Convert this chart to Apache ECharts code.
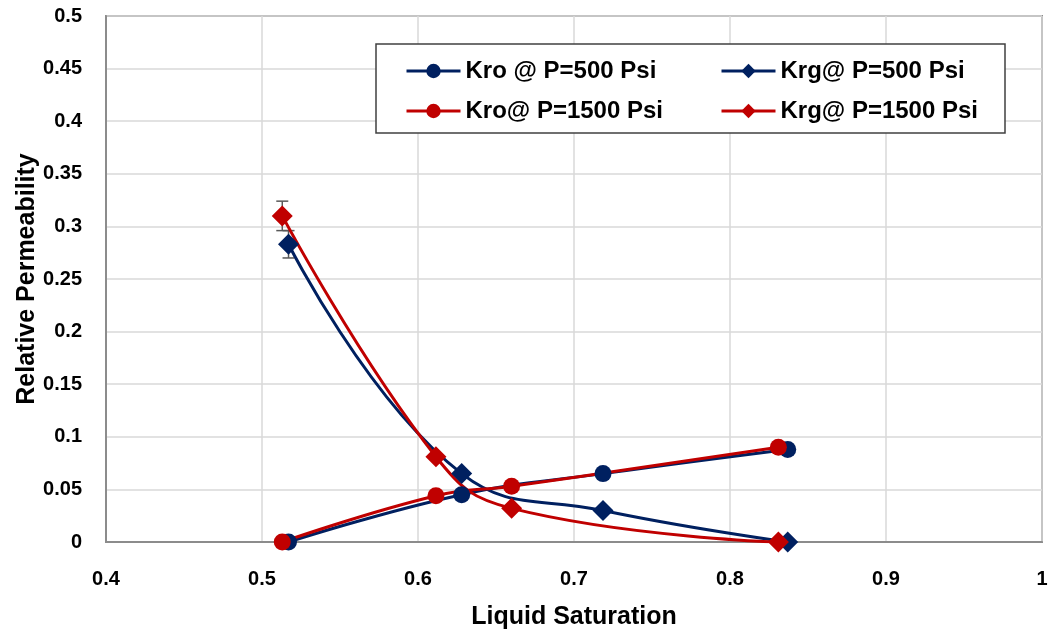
<!DOCTYPE html>
<html>
<head>
<meta charset="utf-8">
<title>Relative Permeability vs Liquid Saturation</title>
<script src="https://cdn.jsdelivr.net/npm/echarts@6/dist/echarts.min.js"></script>
<style>
  html, body { margin: 0; padding: 0; background: #fff; }
  #chart { width: 1051px; height: 635px; }
</style>
</head>
<body>
<div id="chart"></div>
<script>
// Liquid saturation (x) and relative permeability (y) for each curve
const satKro500 = [0.517, 0.628, 0.7186, 0.837];
const kro500    = [0, 0.045, 0.065, 0.088];
const satKrg500 = [0.517, 0.628, 0.7186, 0.837];
const krg500    = [0.283, 0.065, 0.030, 0];
const satKro1500 = [0.513, 0.6115, 0.660, 0.831];
const kro1500    = [0, 0.044, 0.053, 0.090];
const satKrg1500 = [0.513, 0.6115, 0.660, 0.831];
const krg1500    = [0.310, 0.081, 0.032, 0];

// Error bars: [saturation, value, half-range]
const errKrg500  = [[0.517, 0.283, 0.013]];
const errKrg1500 = [[0.513, 0.310, 0.014]];

const seriesNames = ['Kro @ P=500 Psi', 'Krg@ P=500 Psi', 'Kro@ P=1500 Psi', 'Krg@ P=1500 Psi'];

const xMin = 0.4, xMax = 1, xStep = 0.1;
const yMin = 0, yMax = 0.5, yStep = 0.05;

const NAVY = '#002060';
const RED = '#C00000';
const FONT = '"Liberation Sans", Arial, sans-serif';

const pairs = (xs, ys) => xs.map((x, i) => [x, ys[i]]);

function lineSeries(name, xs, ys, color, symbol, size) {
  return {
    name: name,
    type: 'line',
    data: pairs(xs, ys),
    smooth: 0.45,
    symbol: symbol,
    symbolSize: size,
    showAllSymbol: true,
    lineStyle: { color: color, width: 3 },
    itemStyle: { color: color },
    emphasis: { disabled: true },
    z: 3
  };
}

function errorSeries(data) {
  return {
    type: 'custom',
    data: data,
    z: 2,
    silent: true,
    encode: { x: 0, y: [1] },
    renderItem: function (params, api) {
      const x = api.value(0), y = api.value(1), e = api.value(2);
      const top = api.coord([x, y + e]);
      const bot = api.coord([x, y - e]);
      const cap = 6;
      const style = { stroke: '#595959', lineWidth: 1.5 };
      return {
        type: 'group',
        children: [
          { type: 'line', shape: { x1: top[0], y1: top[1], x2: bot[0], y2: bot[1] }, style: style },
          { type: 'line', shape: { x1: top[0] - cap, y1: top[1], x2: top[0] + cap, y2: top[1] }, style: style },
          { type: 'line', shape: { x1: bot[0] - cap, y1: bot[1], x2: bot[0] + cap, y2: bot[1] }, style: style }
        ]
      };
    }
  };
}

const legendText = { fontSize: 24, fontWeight: 'bold', color: '#000', fontFamily: FONT };
const legendCommon = {
  orient: 'vertical', top: 54,
  itemWidth: 54, itemHeight: 18, itemGap: 16,
  lineStyle: { width: 3 },
  textStyle: legendText, z: 5, selectedMode: false
};

const chart = echarts.init(document.getElementById('chart'), null, { renderer: 'canvas' });

chart.setOption({
  animation: false,
  backgroundColor: '#fff',
  grid: {
    left: 106, right: 9, top: 16, bottom: 93,
    outerBoundsMode: 'none',
    show: true, borderColor: '#8c8c8c', borderWidth: 2
  },
  graphic: [{
    type: 'rect',
    shape: { x: 376, y: 44, width: 629, height: 89 },
    style: { fill: '#fff', stroke: '#404040', lineWidth: 1.5 },
    z: 3
  }],
  legend: [
    Object.assign({ data: [seriesNames[0], seriesNames[2]], left: 400 }, legendCommon),
    Object.assign({ data: [seriesNames[1], seriesNames[3]], left: 715 }, legendCommon)
  ],
  xAxis: {
    type: 'value', min: xMin, max: xMax, interval: xStep,
    name: 'Liquid Saturation', nameLocation: 'middle', nameGap: 63,
    nameMoveOverlap: false,
    nameTextStyle: { fontSize: 25, fontWeight: 'bold', color: '#000', fontFamily: FONT },
    axisLine: { show: true, lineStyle: { color: '#8c8c8c', width: 2 } },
    axisTick: { show: false },
    axisLabel: { margin: 27, fontSize: 20, fontWeight: 'bold', color: '#000', fontFamily: FONT },
    splitLine: { show: true, lineStyle: { color: '#d9d9d9', width: 1.5 } }
  },
  yAxis: {
    type: 'value', min: yMin, max: yMax, interval: yStep,
    name: 'Relative Permeability', nameLocation: 'middle', nameGap: 66,
    nameMoveOverlap: false,
    nameTextStyle: { fontSize: 25, fontWeight: 'bold', color: '#000', fontFamily: FONT },
    axisLine: { show: true, lineStyle: { color: '#8c8c8c', width: 2 } },
    axisTick: { show: false },
    axisLabel: { margin: 24, fontSize: 20, fontWeight: 'bold', color: '#000', fontFamily: FONT },
    splitLine: { show: true, lineStyle: { color: '#d9d9d9', width: 1.5 } }
  },
  series: [
    errorSeries(errKrg500),
    errorSeries(errKrg1500),
    lineSeries(seriesNames[0], satKro500, kro500, NAVY, 'circle', 17),
    lineSeries(seriesNames[1], satKrg500, krg500, NAVY, 'diamond', 21),
    lineSeries(seriesNames[2], satKro1500, kro1500, RED, 'circle', 17),
    lineSeries(seriesNames[3], satKrg1500, krg1500, RED, 'diamond', 21)
  ]
});
</script>
</body>
</html>
